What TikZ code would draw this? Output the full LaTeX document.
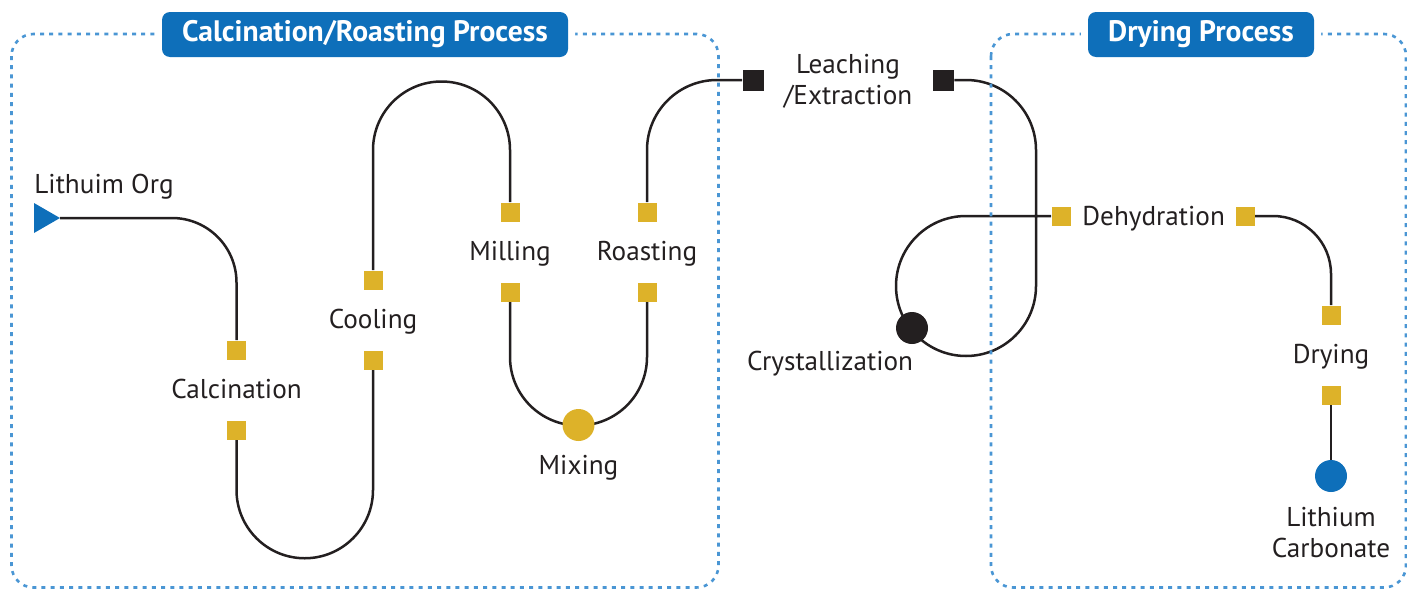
\documentclass[tikz,border=0pt]{standalone}
\usepackage{fontspec}
\setmainfont{PT Sans}
\usetikzlibrary{positioning,backgrounds}
\definecolor{procblue}{RGB}{14,111,186}
\definecolor{stepyellow}{RGB}{221,178,41}
\definecolor{dotblue}{RGB}{74,150,212}
\definecolor{ink}{RGB}{35,31,32}

\begin{document}
\begin{tikzpicture}[x=0.5pt,y=-0.5pt,
		wire/.style={ink,line width=1.25pt},
		zone/.style={dotblue,line width=1.3pt,dash pattern=on 2pt off 2.6pt,rounded corners=11pt},
		procname/.style={fill=procblue,text=white,rounded corners=4pt,minimum height=22.5pt,inner sep=0pt,
			font=\bfseries\fontsize{14.8}{16}\selectfont,preaction={draw=white,line width=7pt}},
		sq/.style={fill=stepyellow,minimum size=9.5pt,inner sep=0pt},
		blk/.style={fill=ink,minimum size=10.5pt,inner sep=0pt},
		disc/.style={circle,minimum size=16pt,inner sep=0pt},
		lbl/.style={text=ink,font=\fontsize{13.6}{15.5}\selectfont,inner sep=0pt,align=center}]
		\useasboundingbox (0,0) rectangle (1407,589);
		%
		\coordinate (org) at (60,218);
		\fill[procblue] (org) -- ++(-26,-15) -- ++(0,30) -- cycle;
		\node[sq] (calcin) at (236.5,350) {};
		\node[sq] (calcout) at (236.5,430) {};
		\node[sq] (coolout) at (373,360) {};
		\node[sq] (coolin) at (373,280) {};
		\node[sq] (millin) at (510,212) {};
		\node[sq] (millout) at (510,292) {};
		\node[disc,fill=stepyellow] (mix) at (578.5,425) {};
		\node[sq] (roastout) at (647,292) {};
		\node[sq] (roastin) at (647,212) {};
		\node[blk] (leachin) at (753,80) {};
		\node[blk] (leachout) at (943.5,80) {};
		\node[disc,fill=ink] (cryst) at (912,328) {};
		\node[sq] (dehydin) at (1061,216) {};
		\node[sq] (dehydout) at (1245,216) {};
		\node[sq] (dryin) at (1331,315) {};
		\node[sq] (dryout) at (1331,395) {};
		\node[disc,fill=procblue] (licarb) at (1331,476) {};
		%
		\node[lbl,anchor=base west] (orglbl) at (34,193) {Lithuim Org};
		\node[lbl,anchor=base] (calclbl) at (236.5,398) {Calcination};
		\node[lbl,anchor=base] (coollbl) at (373,328) {Cooling};
		\node[lbl,anchor=base] (milllbl) at (510,260) {Milling};
		\node[lbl,anchor=base] (roastlbl) at (647,260) {Roasting};
		\node[lbl,anchor=base] (mixlbl) at (578.5,474) {Mixing};
		\node[lbl,anchor=base] (leachlbl) at (848,104) {Leaching\\/Extraction};
		\node[lbl,anchor=base] (crystlbl) at (830,370) {Crystallization};
		\node[lbl,anchor=base west] (dehydlbl) at (1082,225) {Dehydration};
		\node[lbl,anchor=base] (drylbl) at (1331,363) {Drying};
		\node[lbl,anchor=base] (licarblbl) at (1331,557) {Lithium\\Carbonate};
		%
		\begin{scope}[on background layer]
			\draw[wire] (org) -- (172,218) arc[start angle=-90,end angle=0,radius=64.5] -- (calcin.north);
			\draw[wire] (calcout.south) -- (236.5,490) arc[start angle=180,end angle=0,radius=68.25] -- (coolout.south);
			\draw[wire] (coolin.north) -- (373,150) arc[start angle=180,end angle=360,radius=68.5] -- (millin.north);
			\draw[wire] (millout.south) -- (510,357) arc[start angle=180,end angle=0,radius=68.5] -- (roastout.south);
			\draw[wire] (roastin.north) -- (647,150) arc[start angle=180,end angle=270,radius=70] -- (leachin.west);
			\draw[wire] (leachout.east) -- (966,80) arc[start angle=-90,end angle=0,radius=70] -- (1036,286)
				arc[start angle=0,end angle=270,radius=70] -- (dehydin.west);
			\draw[wire] (dehydout.east) -- (1273,216) arc[start angle=-90,end angle=0,radius=58] -- (dryin.north);
			\draw[wire] (dryout) -- (licarb);
			%
			\draw[zone] (11.5,34) rectangle (718.5,587.5);
			\draw[zone] (991,34) rectangle (1406,587.5);
		\end{scope}
		%
		\node[procname,minimum width=203pt] (calczone) at (365,34.5) {Calcination/Roasting Process};
		\node[procname,minimum width=113pt] (dryzone) at (1201,34.5) {Drying Process};
	\end{tikzpicture}
\end{document}
